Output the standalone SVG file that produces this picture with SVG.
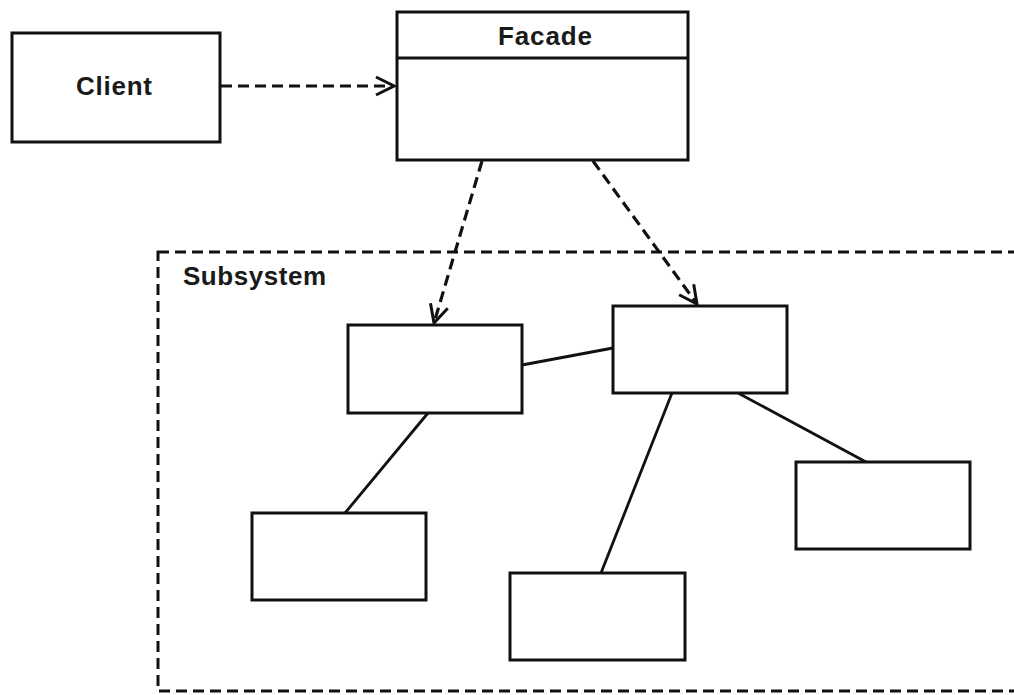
<svg xmlns="http://www.w3.org/2000/svg" width="1014" height="695" viewBox="0 0 1014 695">
<style>
.box{fill:#fff;stroke:#111;stroke-width:3}
.dash{fill:none;stroke:#111;stroke-width:3.2;stroke-dasharray:11 6}
.solid{fill:none;stroke:#111;stroke-width:2.8}
.lbl{font-family:"Liberation Sans",Arial,sans-serif;font-weight:bold;font-size:26px;fill:#1a1a1a}
</style>
<defs>
<marker id="open" viewBox="0 0 24 24" refX="21" refY="12" markerWidth="24" markerHeight="24" markerUnits="userSpaceOnUse" orient="auto">
<path d="M3,3 L21,12 L3,21" fill="none" stroke="#111" stroke-width="3"/>
</marker>
</defs>
<rect width="1014" height="695" fill="#fff"/>
<g id="subsystem">
<rect x="158" y="252" width="900" height="439" fill="none" stroke="#111" stroke-width="3" stroke-dasharray="11 6"/>
<text class="lbl" x="183" y="285" textLength="143">Subsystem</text>
</g>
<g id="client">
<rect class="box" x="12" y="33" width="208" height="109"/>
<text class="lbl" x="76" y="95" textLength="76">Client</text>
</g>
<g id="facade">
<rect class="box" x="397" y="12" width="291" height="148"/>
<line x1="397" y1="58" x2="688" y2="58" stroke="#111" stroke-width="3"/>
<text class="lbl" x="498" y="45" textLength="94">Facade</text>
</g>
<g id="class1"><rect class="box" x="348" y="325" width="174" height="88"/></g>
<g id="class2"><rect class="box" x="613" y="306" width="174" height="87"/></g>
<g id="class3"><rect class="box" x="252" y="513" width="174" height="87"/></g>
<g id="class4"><rect class="box" x="510" y="573" width="175" height="87"/></g>
<g id="class5"><rect class="box" x="796" y="462" width="174" height="87"/></g>
<g id="connectors">
<line class="dash" x1="221" y1="86" x2="394" y2="86" marker-end="url(#open)"/>
<line class="dash" x1="482" y1="161" x2="434" y2="323" marker-end="url(#open)"/>
<line class="dash" x1="593" y1="161" x2="697" y2="304" marker-end="url(#open)"/>
<line class="solid" x1="522" y1="365" x2="613" y2="348"/>
<line class="solid" x1="428" y1="413" x2="345" y2="513"/>
<line class="solid" x1="672" y1="393" x2="601" y2="573"/>
<line class="solid" x1="738" y1="393" x2="866" y2="462"/>
</g>
</svg>
